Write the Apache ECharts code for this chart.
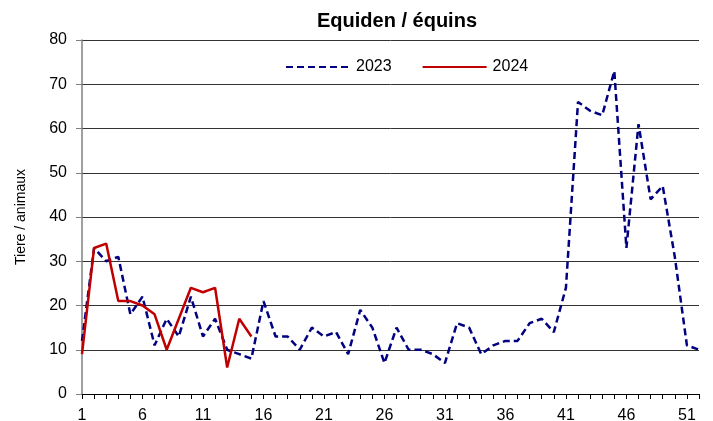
<!DOCTYPE html>
<html>
<head>
<meta charset="utf-8">
<script src="https://cdn.jsdelivr.net/npm/echarts@6/dist/echarts.min.js"></script>
<style>
  html, body { margin: 0; padding: 0; background: #fff; }
  #chart { width: 713px; height: 421px; }
</style>
</head>
<body>
<div id="chart"></div>
<script>
// Kalenderwochen / semaines
const weeks = Array.from({ length: 52 }, (_, i) => String(i + 1))
const cases2023 = [12, 33, 30, 31, 18, 22, 11, 17, 13, 22, 13, 17, 10, 9, 8, 21,
  13, 13, 10, 15, 13, 14, 9, 19, 15, 7, 15, 10, 10, 9, 7, 16, 15, 9, 11, 12,
  12, 16, 17, 14, 24, 66, 64, 63, 73, 33, 61, 44, 47, 31, 11, 10]
const cases2024 = [9, 33, 34, 21, 21, 20, 18, 10, 17, 24, 23, 24, 6, 17, 13]

const chart = echarts.init(document.getElementById('chart'))
const option = {
  animation: false,
  textStyle: { fontFamily: 'Liberation Sans, Arial, sans-serif' },
  title: {
    left: 392,
    top: 6,
    textAlign: 'center',
    text: 'Equiden / équins',
    textStyle: { fontSize: 20, fontWeight: 'bold', color: '#000' }
  },
  legend: {
    top: 54,
    left: 280,
    itemGap: 30,
    itemWidth: 64,
    itemHeight: 16,
    itemStyle: { opacity: 0 }, // nur Linie, kein Punkt
    textStyle: { fontSize: 16, color: '#000', padding: [0, 0, 0, 1] },
    data: ['2023', '2024']
  },
  grid: {
    left: 82,
    right: 14,
    top: 40,
    bottom: 27,
    outerBoundsMode: 'none'
  },
  xAxis: {
    type: 'category',
    boundaryGap: false,
    data: weeks,
    axisLine: { lineStyle: { color: '#000', width: 1 } },
    axisTick: { interval: 0, length: 5, lineStyle: { color: '#000' } },
    axisLabel: { interval: 4, fontSize: 16, color: '#000', margin: 14 }
  },
  yAxis: {
    type: 'value',
    min: 0,
    max: 80,
    interval: 10,
    name: 'Tiere / animaux',
    nameLocation: 'middle',
    nameGap: 54,
    nameTextStyle: { fontSize: 14, color: '#000' },
    axisLine: { show: true, lineStyle: { color: '#808080', width: 1.5 } },
    axisTick: { show: true, inside: false, length: 6, lineStyle: { color: '#808080' } },
    axisLabel: { fontSize: 16, color: '#000', margin: 15 },
    splitLine: { lineStyle: { color: '#333', width: 1 } }
  },
  series: [
    {
      name: '2023',
      type: 'line',
      data: cases2023,
      symbol: 'none',
      lineStyle: { color: '#000080', width: 2.5, type: [7, 4] },
      itemStyle: { color: '#000080' }
    },
    {
      name: '2024',
      type: 'line',
      data: cases2024,
      symbol: 'none',
      lineStyle: { color: '#c00000', width: 2.5 },
      itemStyle: { color: '#c00000' }
    }
  ]
}
chart.setOption(option)
</script>
</body>
</html>
